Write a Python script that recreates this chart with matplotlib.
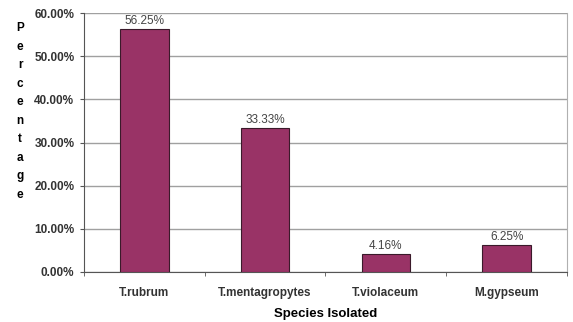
import numpy as np
import matplotlib
matplotlib.use('Agg')
import matplotlib.pyplot as plt

# data
species = ['T.rubrum', 'T.mentagropytes', 'T.violaceum', 'M.gypseum']
percent = [56.25, 33.33, 4.16, 6.25]
labels = ['56.25%', '33.33%', '4.16%', '6.25%']
yticks = [0, 10, 20, 30, 40, 50, 60]

plt.rcParams['font.family'] = ['Liberation Sans', 'DejaVu Sans']

fig = plt.figure(figsize=(5.73, 3.22), dpi=100)
ax = fig.add_axes([0.1466, 0.1553, 0.8429, 0.8043])

x = np.arange(len(species))
bars = ax.bar(x, percent, width=0.4, color='#993366', edgecolor='#3a1a2a', linewidth=0.8, zorder=3)

for b, lab in zip(bars, labels):
    ax.text(b.get_x() + b.get_width() / 2, b.get_height() + 0.5, lab,
            ha='center', va='bottom', fontsize=8.5, color='#444444')

ax.set_xlim(-0.5, len(species) - 0.5)
ax.set_ylim(0, 60)
ax.set_yticks(yticks)
ax.set_yticklabels([f'{v:.2f}%' for v in yticks], fontsize=8.5, fontweight='bold', color='#333333')
ax.set_xticks(x)
ax.set_xticklabels(species, fontsize=8.5, fontweight='bold', color='#333333')
ax.tick_params(axis='x', length=0, pad=11)
ax.tick_params(axis='y', length=3, color='#555555', pad=4)

# category separators as minor ticks
ax.set_xticks(np.arange(-0.5, len(species)), minor=True)
ax.tick_params(axis='x', which='minor', length=3, color='#555555')

ax.grid(axis='y', color='#a0a0a0', linewidth=1.0, zorder=0)
ax.spines['top'].set_visible(False)
ax.spines['right'].set_color('#b0b0b0')
ax.spines['left'].set_color('#555555')
ax.spines['bottom'].set_color('#555555')

ax.set_xlabel('Species Isolated', fontsize=9.5, fontweight='bold', labelpad=6)

# stacked vertical y-label, one letter per row
word = 'Percentage'
top_y, bottom_y = 1 - 28 / 322, 1 - 195 / 322
for i, ch in enumerate(word):
    yy = top_y - i * (top_y - bottom_y) / (len(word) - 1)
    fig.text(0.035, yy, ch, ha='center', va='center', fontsize=8.5, fontweight='bold')

fig.savefig('out.png', dpi=100)
